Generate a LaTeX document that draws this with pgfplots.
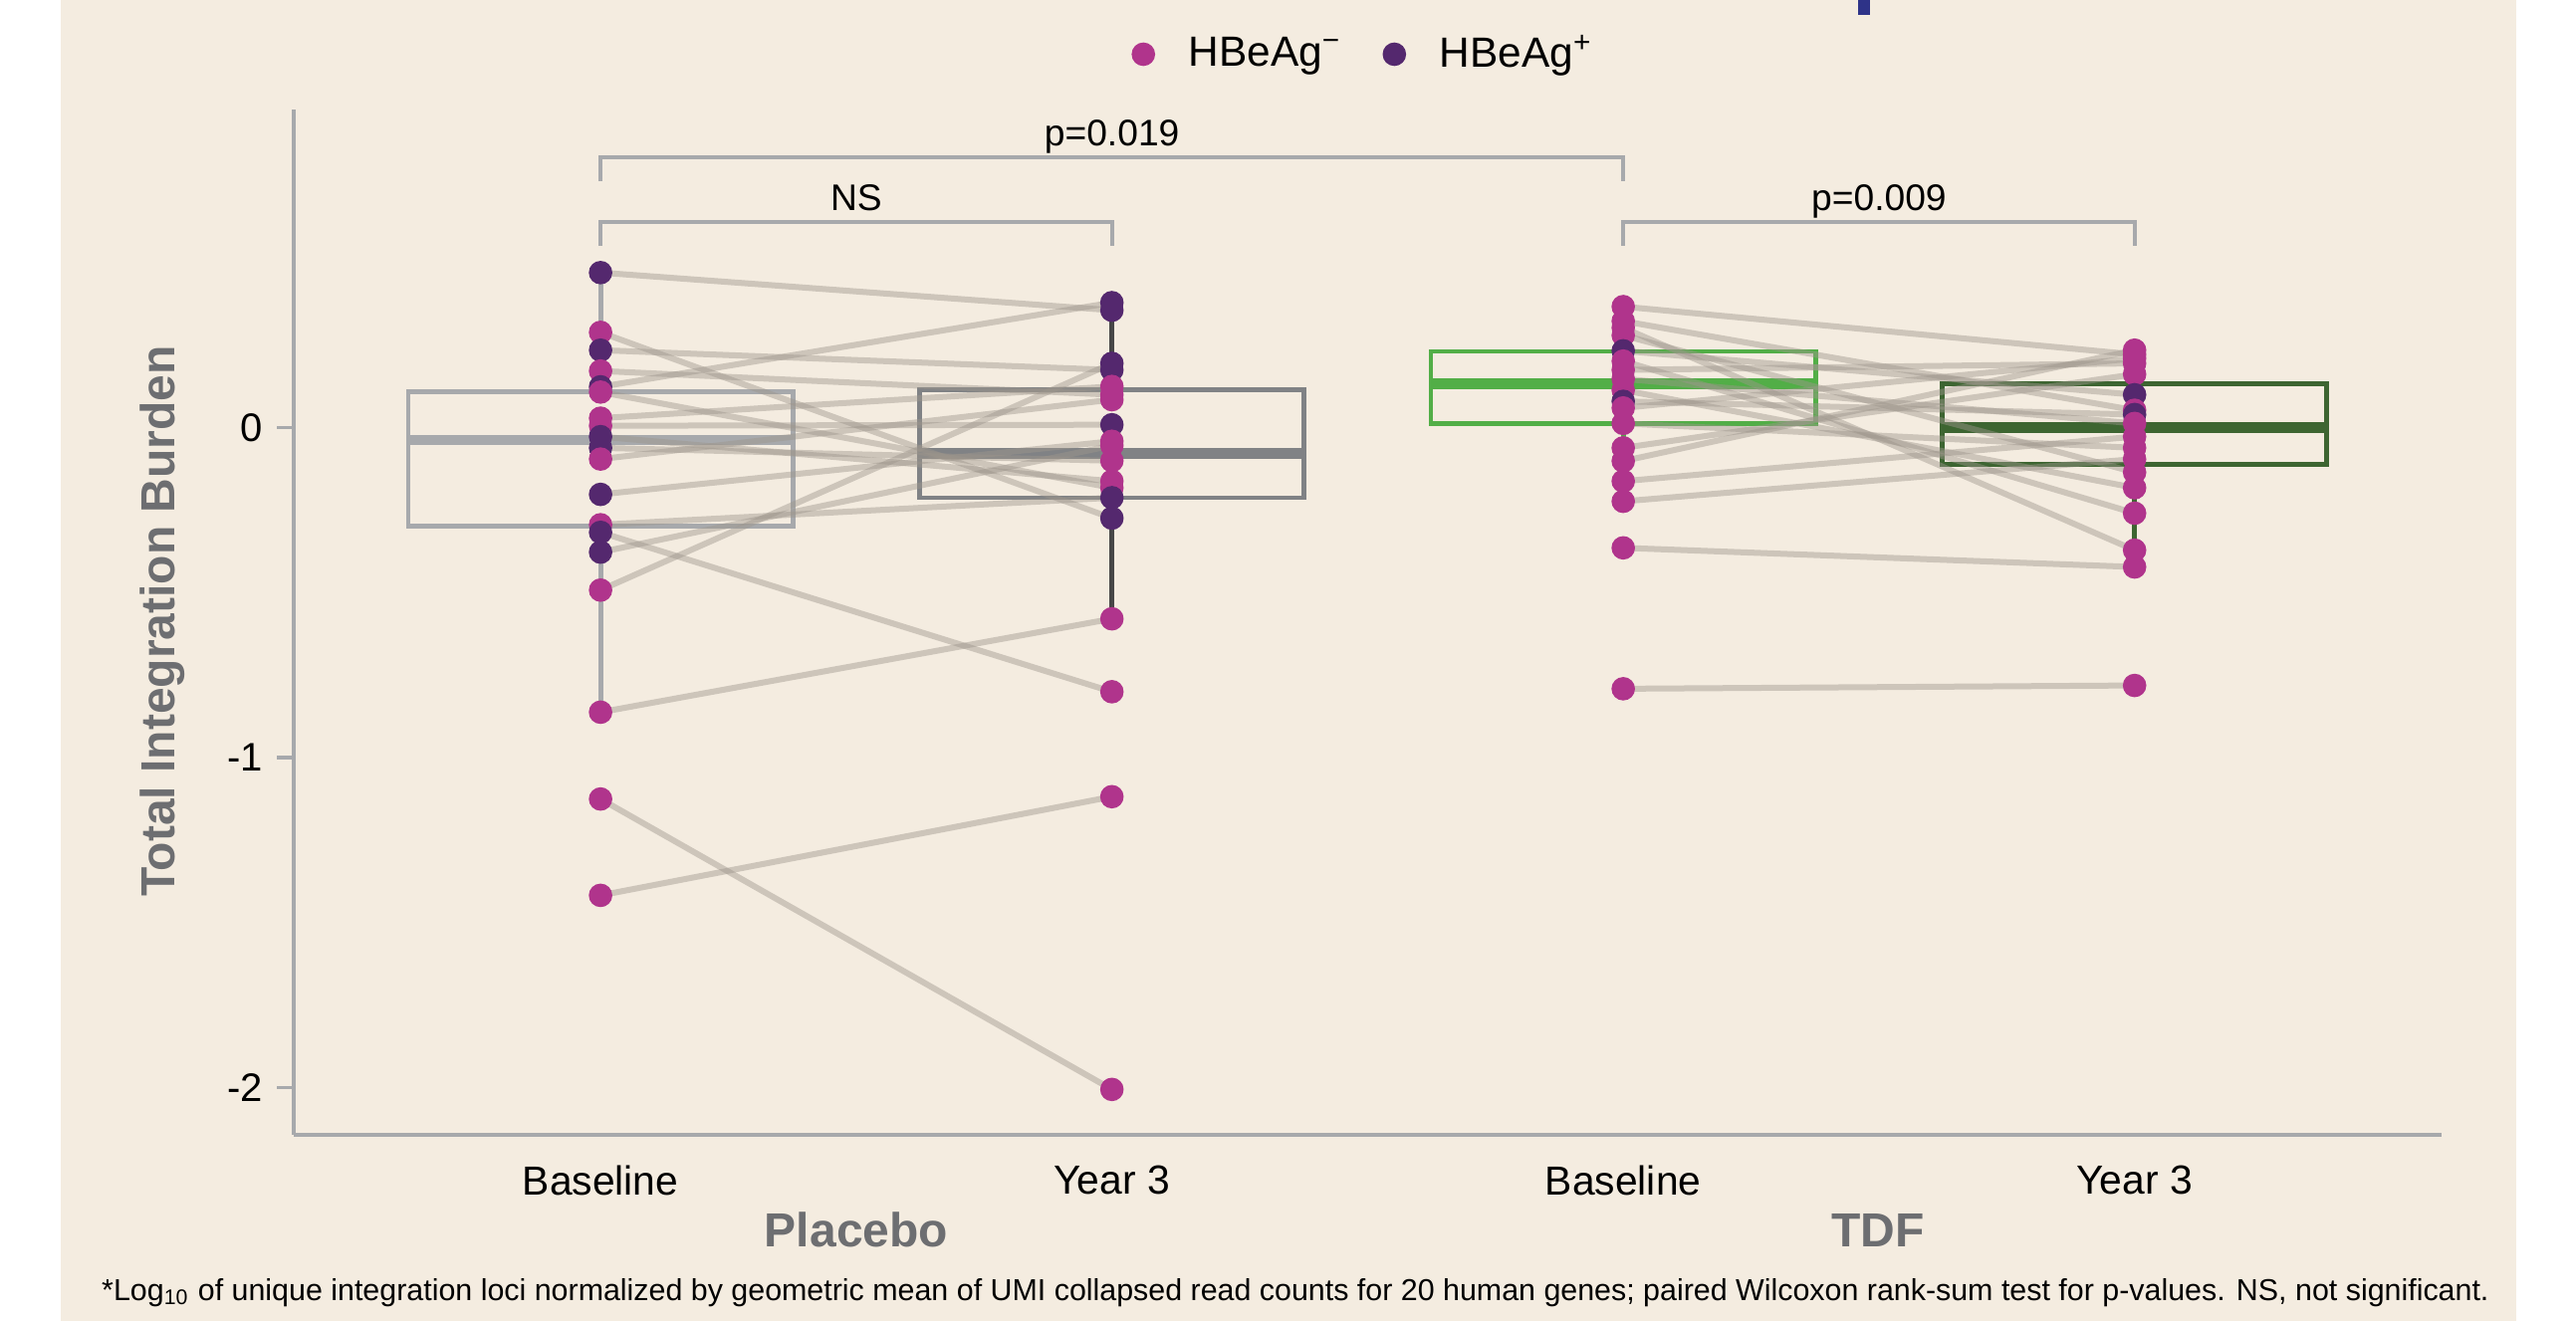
\documentclass[border=0pt]{standalone}
\usepackage{pgfplots}
\pgfplotsset{compat=1.18}
\usepgfplotslibrary{statistics}
\usepackage{fontspec}
\setmainfont{Liberation Sans}
\definecolor{bg}{HTML}{F4ECE0}
\definecolor{magC}{HTML}{B0348C}
\definecolor{purC}{HTML}{54286E}
\definecolor{axg}{HTML}{A7A9AC}
\definecolor{boxA}{HTML}{A7A9AC}
\definecolor{boxB}{HTML}{808285}
\definecolor{whiskB}{HTML}{474747}
\definecolor{boxC}{HTML}{52AE47}
\definecolor{boxD}{HTML}{3D6531}
\definecolor{linec}{HTML}{9E968C}
\definecolor{labg}{HTML}{6D6E71}
\definecolor{barblue}{HTML}{2E3388}
\pgfplotsset{
  pair/.style={draw=linec, draw opacity=0.45, line width=1.5pt, mark=none, forget plot},
  pts/.style={scatter, only marks, mark=*, mark size=2.75pt, forget plot,
    scatter src=explicit symbolic,
    scatter/classes={n={mark=*, draw=magC, fill=magC}, p={mark=*, draw=purC, fill=purC}}},
  bx/.style={forget plot, line width=1.2pt, boxplot/draw direction=y,
    boxplot/every median/.style={line width=2.7pt}},
}
\begin{document}
\begin{tikzpicture}
\begin{scope}[x=0.25pt,y=-0.25pt]
\fill[white] (0,0) rectangle (2587,1327);
\fill[bg] (61,0) rectangle (2527,1327);
\fill[barblue] (1866,0) rectangle (1878,15);
\end{scope}
\begin{axis}[
  at={(73.75pt,-285pt)}, anchor=south west,
  scale only axis, width=539.2pt, height=257.4pt,
  xmin=-0.6, xmax=3.6, ymin=-2.1427, ymax=0.963,
  axis lines=left,
  axis line style={draw=axg, line width=0.85pt, -},
  clip=false,
  xtick={0,1,2,3},
  xticklabels={Baseline, Year 3, Baseline, Year 3},
  xtick style={draw=none},
  ytick={-2,-1,0},
  yticklabels={-2,-1,0},
  ytick style={draw=axg, line width=0.85pt},
  tick align=outside,
  major tick length=4.2pt,
  xticklabel style={font=\fontsize{10.2}{12}\selectfont, text=black},
  yticklabel style={font=\fontsize{10}{12}\selectfont, text=black},
  legend style={at={(0.4995,1.0543)}, anchor=center, draw=none, fill=none,
    legend columns=2, font=\fontsize{10.6}{12}\selectfont,
    /tikz/every odd column/.append style={column sep=6.6pt},
    /tikz/every even column/.append style={column sep=8.5pt}},
  legend cell align=left,
]
% boxes
\addplot[bx, draw=boxA,
  boxplot prepared={draw position=0, lower whisker=-0.862, lower quartile=-0.297, median=-0.037,
  upper quartile=0.108, upper whisker=0.472, box extend=0.752, whisker extend=0}] coordinates {};
\addplot[bx, draw=boxB, boxplot/every whisker/.style={draw=whiskB},
  boxplot prepared={draw position=1, lower whisker=-0.579, lower quartile=-0.212, median=-0.078,
  upper quartile=0.114, upper whisker=0.379, box extend=0.752, whisker extend=0}] coordinates {};
\addplot[bx, draw=boxC,
  boxplot prepared={draw position=2, lower whisker=-0.223, lower quartile=0.013, median=0.134,
  upper quartile=0.231, upper whisker=0.367, box extend=0.752, whisker extend=0}] coordinates {};
\addplot[bx, draw=boxD,
  boxplot prepared={draw position=3, lower whisker=-0.422, lower quartile=-0.111, median=0.0,
  upper quartile=0.132, upper whisker=0.235, box extend=0.752, whisker extend=0}] coordinates {};
% paired lines: placebo
\addplot[pair] coordinates {(0,0.470) (1,0.356)};
\addplot[pair] coordinates {(0,0.289) (1,-0.274)};
\addplot[pair] coordinates {(0,0.235) (1,0.175)};
\addplot[pair] coordinates {(0,0.172) (1,0.100)};
\addplot[pair] coordinates {(0,0.124) (1,0.379)};
\addplot[pair] coordinates {(0,0.108) (1,-0.182)};
\addplot[pair] coordinates {(0,0.029) (1,0.125)};
\addplot[pair] coordinates {(0,0.006) (1,0.009)};
\addplot[pair] coordinates {(0,-0.027) (1,-0.162)};
\addplot[pair] coordinates {(0,-0.061) (1,-0.100)};
\addplot[pair] coordinates {(0,-0.095) (1,0.085)};
\addplot[pair] coordinates {(0,-0.202) (1,-0.041)};
\addplot[pair] coordinates {(0,-0.294) (1,-0.212)};
\addplot[pair] coordinates {(0,-0.317) (1,-0.800)};
\addplot[pair] coordinates {(0,-0.377) (1,-0.054)};
\addplot[pair] coordinates {(0,-0.492) (1,0.195)};
\addplot[pair] coordinates {(0,-0.862) (1,-0.579)};
\addplot[pair] coordinates {(0,-1.125) (1,-2.005)};
\addplot[pair] coordinates {(0,-1.417) (1,-1.118)};
% paired lines: TDF
\addplot[pair] coordinates {(2,0.367) (3,0.222)};
\addplot[pair] coordinates {(2,0.323) (3,0.053)};
\addplot[pair] coordinates {(2,0.303) (3,-0.371)};
\addplot[pair] coordinates {(2,0.280) (3,-0.135)};
\addplot[pair] coordinates {(2,0.233) (3,0.100)};
\addplot[pair] coordinates {(2,0.202) (3,-0.259)};
\addplot[pair] coordinates {(2,0.175) (3,0.195)};
\addplot[pair] coordinates {(2,0.148) (3,0.013)};
\addplot[pair] coordinates {(2,0.114) (3,-0.182)};
\addplot[pair] coordinates {(2,0.080) (3,0.040)};
\addplot[pair] coordinates {(2,0.060) (3,0.210)};
\addplot[pair] coordinates {(2,0.013) (3,-0.061)};
\addplot[pair] coordinates {(2,-0.061) (3,0.162)};
\addplot[pair] coordinates {(2,-0.101) (3,0.235)};
\addplot[pair] coordinates {(2,-0.162) (3,-0.027)};
\addplot[pair] coordinates {(2,-0.223) (3,-0.095)};
\addplot[pair] coordinates {(2,-0.364) (3,-0.422)};
\addplot[pair] coordinates {(2,-0.791) (3,-0.781)};
% points
\addplot[pts] coordinates {
 (0,0.470)[p] (0,0.289)[n] (0,0.235)[p] (0,0.172)[n] (0,0.124)[p] (0,0.108)[n]
 (0,0.029)[n] (0,0.006)[n] (0,-0.027)[p] (0,-0.061)[p] (0,-0.095)[n] (0,-0.202)[p]
 (0,-0.294)[n] (0,-0.317)[p] (0,-0.377)[p] (0,-0.492)[n] (0,-0.862)[n] (0,-1.125)[n] (0,-1.417)[n]};
\addplot[pts] coordinates {
 (1,0.379)[p] (1,0.356)[p] (1,0.195)[p] (1,0.175)[p] (1,0.125)[n] (1,0.100)[n]
 (1,0.085)[n] (1,0.009)[p] (1,-0.041)[n] (1,-0.054)[n] (1,-0.100)[n] (1,-0.162)[n]
 (1,-0.182)[n] (1,-0.212)[p] (1,-0.274)[p] (1,-0.579)[n] (1,-0.800)[n] (1,-1.118)[n] (1,-2.005)[n]};
\addplot[pts] coordinates {
 (2,0.367)[n] (2,0.323)[n] (2,0.303)[n] (2,0.280)[n] (2,0.233)[p] (2,0.202)[n]
 (2,0.175)[n] (2,0.148)[n] (2,0.114)[n] (2,0.080)[p] (2,0.060)[n] (2,0.013)[n]
 (2,-0.061)[n] (2,-0.101)[n] (2,-0.162)[n] (2,-0.223)[n] (2,-0.364)[n] (2,-0.791)[n]};
\addplot[pts] coordinates {
 (3,0.235)[n] (3,0.222)[n] (3,0.210)[n] (3,0.195)[n] (3,0.162)[n] (3,0.100)[p]
 (3,0.053)[n] (3,0.040)[p] (3,0.013)[n] (3,-0.027)[n] (3,-0.061)[n] (3,-0.095)[n]
 (3,-0.135)[n] (3,-0.182)[n] (3,-0.259)[n] (3,-0.371)[n] (3,-0.422)[n] (3,-0.781)[n]};
% legend
\addlegendimage{only marks, mark=*, mark size=2.75pt, draw=magC, fill=magC}
\addlegendentry{HBeAg\textsuperscript{−}}
\addlegendimage{only marks, mark=*, mark size=2.75pt, draw=purC, fill=purC}
\addlegendentry{HBeAg\textsuperscript{+}}
% significance brackets
\draw[axg, line width=1pt] (axis cs:0,0.748) -- (axis cs:0,0.8205) -- (axis cs:2,0.8205) -- (axis cs:2,0.748);
\draw[axg, line width=1pt] (axis cs:0,0.551) -- (axis cs:0,0.6226) -- (axis cs:1,0.6226) -- (axis cs:1,0.551);
\draw[axg, line width=1pt] (axis cs:2,0.551) -- (axis cs:2,0.6226) -- (axis cs:3,0.6226) -- (axis cs:3,0.551);
\node[anchor=base, font=\fontsize{9.3}{11}\selectfont, inner sep=0pt] at (axis cs:1,0.853) {p=0.019};
\node[anchor=base, font=\fontsize{9.3}{11}\selectfont, inner sep=0pt] at (axis cs:0.5,0.6576) {NS};
\node[anchor=base, font=\fontsize{9.3}{11}\selectfont, inner sep=0pt] at (axis cs:2.5,0.6576) {p=0.009};
\end{axis}
\begin{scope}[x=0.25pt,y=-0.25pt]
\node[rotate=90, font=\bfseries\fontsize{12}{14}\selectfont, text=labg] at (163,624) {Total Integration Burden};
\node[anchor=base, font=\bfseries\fontsize{12}{14}\selectfont, text=labg, inner sep=0pt] at (860,1252) {Placebo};
\node[anchor=base, font=\bfseries\fontsize{12}{14}\selectfont, text=labg, inner sep=0pt] at (1886,1252) {TDF};
\node[anchor=base, font=\fontsize{7.6}{9}\selectfont, inner sep=0pt] at (1301,1306) {*Log\textsubscript{10} of unique integration loci normalized by geometric mean of UMI collapsed read counts for 20 human genes; paired Wilcoxon rank-sum test for p-values. NS, not significant.};
\end{scope}
\pgfresetboundingbox
\path[use as bounding box] (0,0) rectangle (646.75pt,-331.75pt);
\end{tikzpicture}
\end{document}
